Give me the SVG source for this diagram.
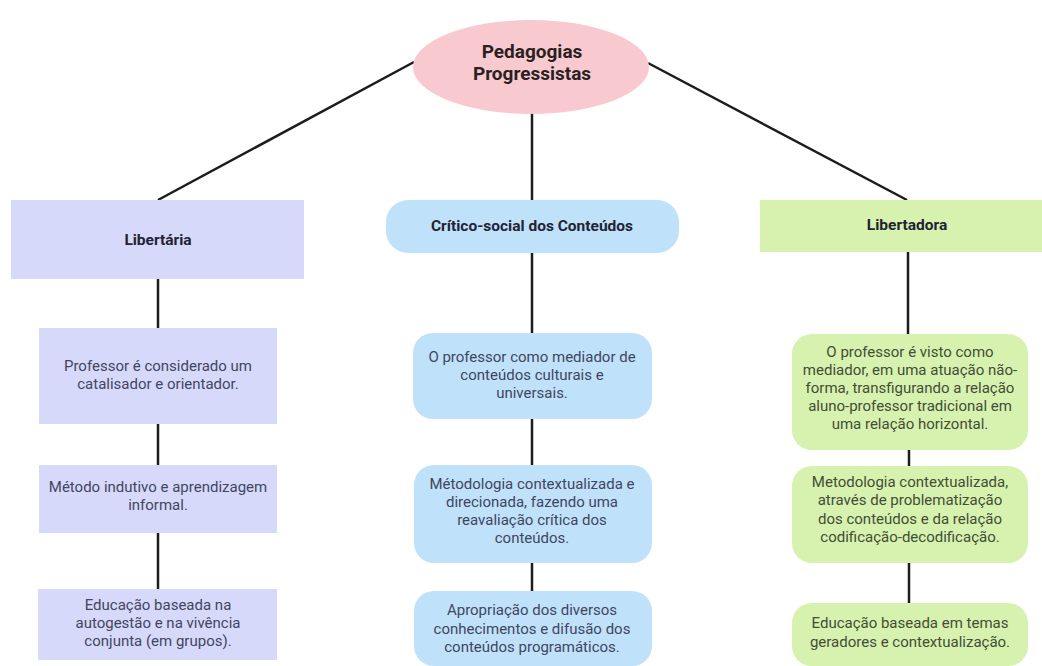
<svg xmlns="http://www.w3.org/2000/svg" width="1042" height="666" viewBox="0 0 1042 666">
<style>
.t{font-family:Roboto,"Liberation Sans",sans-serif;font-size:15px;text-anchor:middle;fill:#414660}
.tg{fill:#434d38}
.h{font-family:Roboto,"Liberation Sans",sans-serif;font-size:15.5px;font-weight:bold;text-anchor:middle;fill:#1f2333}
.c{stroke:#1c1c1c;stroke-width:2.5;fill:none}
.lav{fill:#d7d9fb}
.blu{fill:#c0e1fa}
.grn{fill:#d6f2ae}
</style>
<rect width="1042" height="666" fill="#ffffff"/>
<g id="connectors">
<line class="c" x1="414" y1="62" x2="158" y2="200"/>
<line class="c" x1="532" y1="113" x2="532" y2="200"/>
<line class="c" x1="648" y1="63" x2="907" y2="200"/>
<line class="c" x1="158" y1="279" x2="158" y2="328"/>
<line class="c" x1="158" y1="424" x2="158" y2="465"/>
<line class="c" x1="158" y1="533" x2="158" y2="589"/>
<line class="c" x1="532" y1="253" x2="532" y2="333"/>
<line class="c" x1="532" y1="419" x2="532" y2="465"/>
<line class="c" x1="532" y1="563" x2="532" y2="591"/>
<line class="c" x1="908" y1="252" x2="908" y2="334"/>
<line class="c" x1="909" y1="450" x2="909" y2="466"/>
<line class="c" x1="909" y1="563" x2="909" y2="603"/>
</g>
<g id="root">
<ellipse cx="531" cy="67" rx="118" ry="47" fill="#f8c9cf"/>
<text x="532" y="58" font-family="Roboto,'Liberation Sans',sans-serif" font-size="19" font-weight="bold" text-anchor="middle" fill="#2a1f22">Pedagogias</text>
<text x="532" y="80" font-family="Roboto,'Liberation Sans',sans-serif" font-size="19" font-weight="bold" text-anchor="middle" fill="#2a1f22">Progressistas</text>
</g>
<g id="libertaria">
<rect class="lav" x="11" y="200" width="293" height="79"/>
<text class="h" x="158" y="245">Libertária</text>
</g>
<g id="critico">
<rect class="blu" x="386" y="200" width="293" height="53" rx="22"/>
<text class="h" x="532" y="231">Crítico-social dos Conteúdos</text>
</g>
<g id="libertadora">
<rect class="grn" x="760" y="200" width="294" height="52"/>
<text class="h" x="907" y="230" fill="#1e2a14">Libertadora</text>
</g>
<g id="lib1">
<rect class="lav" x="39" y="328" width="238" height="96"/>
<text class="t" x="158" y="371">Professor é considerado um</text>
<text class="t" x="158" y="389">catalisador e orientador.</text>
</g>
<g id="lib2">
<rect class="lav" x="39" y="465" width="238" height="68"/>
<text class="t" x="158" y="492">Método indutivo e aprendizagem</text>
<text class="t" x="158" y="510">informal.</text>
</g>
<g id="lib3">
<rect class="lav" x="38" y="589" width="239" height="71"/>
<text class="t" x="158" y="610">Educação baseada na</text>
<text class="t" x="158" y="628">autogestão e na vivência</text>
<text class="t" x="158" y="646">conjunta (em grupos).</text>
</g>
<g id="cri1">
<rect class="blu" x="413" y="333" width="239" height="86" rx="20"/>
<text class="t" x="532" y="362">O professor como mediador de</text>
<text class="t" x="532" y="380">conteúdos culturais e</text>
<text class="t" x="532" y="398">universais.</text>
</g>
<g id="cri2">
<rect class="blu" x="414" y="465" width="238" height="98" rx="20"/>
<text class="t" x="532" y="489">Métodologia contextualizada e</text>
<text class="t" x="532" y="507">direcionada, fazendo uma</text>
<text class="t" x="532" y="525">reavaliação crítica dos</text>
<text class="t" x="532" y="543">conteúdos.</text>
</g>
<g id="cri3">
<rect class="blu" x="414" y="591" width="238" height="75" rx="20"/>
<text class="t" x="532" y="615">Apropriação dos diversos</text>
<text class="t" x="532" y="634">conhecimentos e difusão dos</text>
<text class="t" x="532" y="652">conteúdos programáticos.</text>
</g>
<g id="ltd1">
<rect class="grn" x="792" y="334" width="236" height="116" rx="20"/>
<text class="t tg" x="910" y="357">O professor é visto como</text>
<text class="t tg" x="910" y="375">mediador, em uma atuação não-</text>
<text class="t tg" x="910" y="393">forma, transfigurando a relação</text>
<text class="t tg" x="910" y="411">aluno-professor tradicional em</text>
<text class="t tg" x="910" y="429">uma relação horizontal.</text>
</g>
<g id="ltd2">
<rect class="grn" x="792" y="466" width="236" height="97" rx="20"/>
<text class="t tg" x="910" y="487">Metodologia contextualizada,</text>
<text class="t tg" x="910" y="505">através de problematização</text>
<text class="t tg" x="910" y="524">dos conteúdos e da relação</text>
<text class="t tg" x="910" y="542">codificação-decodificação.</text>
</g>
<g id="ltd3">
<rect class="grn" x="792" y="603" width="236" height="63" rx="20"/>
<text class="t tg" x="910" y="628">Educação baseada em temas</text>
<text class="t tg" x="910" y="647">geradores e contextualização.</text>
</g>
</svg>
